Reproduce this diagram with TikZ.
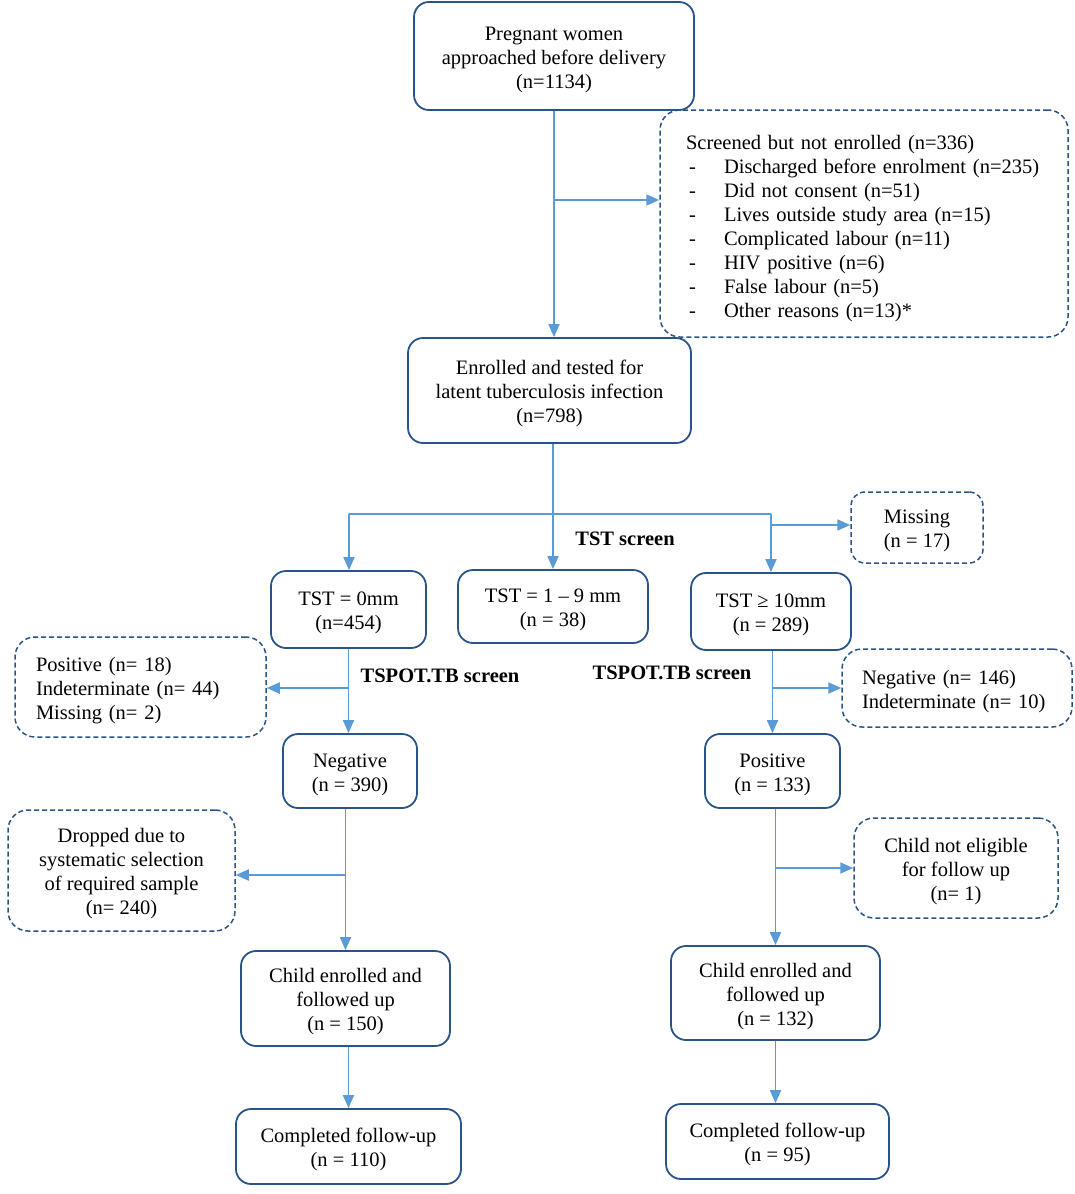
\documentclass[tikz,border=0pt]{standalone}
\usepackage{fontspec}
\setmainfont{Liberation Serif}
\usetikzlibrary{arrows.meta}
\definecolor{boxcol}{RGB}{41,84,138}
\definecolor{arrcol}{RGB}{91,155,213}
\newcommand{\tstrut}{\rule{0pt}{21pt}}
\begin{document}
\begin{tikzpicture}[x=1pt,y=-1pt,
  every node/.style={font=\fontsize{20.5}{24}\selectfont},
  sbox/.style={draw=boxcol,line width=1.8pt,rounded corners=15pt,align=center,inner sep=0pt},
  dbox/.style={draw=boxcol,line width=1.5pt,dash pattern=on 5pt off 3pt,rounded corners=20pt,align=center,inner sep=0pt},
  lbox/.style={dbox,align=left},
  lbl/.style={font=\fontsize{20.5}{24}\selectfont\bfseries,inner sep=0pt},
  ln/.style={draw=arrcol,line width=1.8pt},
  arr/.style={ln,-{Triangle[length=13pt,width=11pt]}}]
\useasboundingbox (0,0) rectangle (1074,1194);
\node[sbox,minimum width=280,minimum height=108] (top) at (554,56) {\tstrut Pregnant women\\approached before delivery\\(n=1134)};
\node[lbox,minimum width=408,minimum height=227,text width=356,inner xsep=26pt] (scr) at (864,223.5) {\rule{0pt}{24pt}Screened but not enrolled (n=336)\\
\hspace*{3pt}\makebox[35pt][l]{-}Discharged before enrolment (n=235)\\
\hspace*{3pt}\makebox[35pt][l]{-}Did not consent (n=51)\\
\hspace*{3pt}\makebox[35pt][l]{-}Lives outside study area (n=15)\\
\hspace*{3pt}\makebox[35pt][l]{-}Complicated labour (n=11)\\
\hspace*{3pt}\makebox[35pt][l]{-}HIV positive (n=6)\\
\hspace*{3pt}\makebox[35pt][l]{-}False labour (n=5)\\
\hspace*{3pt}\makebox[35pt][l]{-}Other reasons (n=13)*};
\node[sbox,minimum width=283,minimum height=105] (enr) at (549.5,390.5) {\tstrut Enrolled and tested for\\latent tuberculosis infection\\(n=798)};
\node[dbox,minimum width=132,minimum height=71,rounded corners=14pt] (miss) at (917,527.5) {\tstrut Missing\\(n = 17)};
\node[sbox,minimum width=155,minimum height=77] (t0) at (348.5,609.5) {\tstrut TST = 0mm\\(n=454)};
\node[sbox,minimum width=190,minimum height=73] (t19) at (553,606.5) {\tstrut TST = 1 – 9 mm\\(n = 38)};
\node[sbox,minimum width=160,minimum height=77] (t10) at (771,611.5) {\tstrut TST ≥ 10mm\\(n = 289)};
\node[lbox,minimum width=251,minimum height=100,text width=209,inner xsep=21pt] (lpos) at (140.5,687) {\tstrut Positive (n= 18)\\Indeterminate (n= 44)\\Missing (n= 2)};
\node[lbox,minimum width=230,minimum height=78,text width=190,inner xsep=20pt] (rneg) at (957,688) {\tstrut Negative (n= 146)\\Indeterminate (n= 10)};
\node[sbox,minimum width=134,minimum height=74] (neg) at (350,771) {\tstrut Negative\\(n = 390)};
\node[sbox,minimum width=135,minimum height=74] (pos) at (772.5,771) {\tstrut Positive\\(n = 133)};
\node[dbox,minimum width=227,minimum height=121] (drop) at (121.5,870.5) {\tstrut Dropped due to\\systematic selection\\of required sample\\(n= 240)};
\node[dbox,minimum width=204,minimum height=100] (nel) at (956,868) {\tstrut Child not eligible\\for follow up\\(n= 1)};
\node[sbox,minimum width=209,minimum height=95] (cl) at (345.5,998.5) {\tstrut Child enrolled and\\followed up\\(n = 150)};
\node[sbox,minimum width=209,minimum height=94] (cr) at (775.5,993) {\tstrut Child enrolled and\\followed up\\(n = 132)};
\node[sbox,minimum width=225,minimum height=75] (fl) at (348.5,1146.5) {\tstrut Completed follow-up\\(n = 110)};
\node[sbox,minimum width=223,minimum height=75] (fr) at (777.5,1141.5) {\tstrut Completed follow-up\\(n = 95)};
\node[lbl] (tst) at (625,539) {TST screen};
\node[lbl] (sp1) at (440,676) {TSPOT.TB screen};
\node[lbl] (sp2) at (672,673) {TSPOT.TB screen};
% connectors
\draw[arr] (top.south) -- (top.south |- enr.north);
\coordinate (c1) at (554,200);
\draw[arr] (c1) -- (c1 -| scr.west);
\draw[arr] (t19.north |- enr.south) -- (t19.north);
\coordinate (hl) at (349,514);
\coordinate (hr) at (771,514);
\draw[ln,line width=1.2pt] (hl) -- (hr);
\draw[arr] (hl) -- (hl |- t0.north);
\draw[arr] (hr) -- (hr |- t10.north);
\coordinate (mb) at (771,525);
\draw[arr] (mb) -- (mb -| miss.west);
\draw[arr] (t0.south) -- (t0.south |- neg.north);
\coordinate (lb) at (348.5,688);
\draw[arr] (lb) -- (lb -| lpos.east);
\draw[arr] (pos.north |- t10.south) -- (pos.north);
\coordinate (rb) at (772.5,688);
\draw[arr] (rb) -- (rb -| rneg.west);
\draw[arr] (cl.north |- neg.south) -- (cl.north);
\coordinate (db) at (345.5,875);
\draw[arr] (db) -- (db -| drop.east);
\draw[arr] (cr.north |- pos.south) -- (cr.north);
\coordinate (eb) at (775.5,868);
\draw[arr] (eb) -- (eb -| nel.west);
\draw[arr] (fl.north |- cl.south) -- (fl.north);
\draw[arr] (cr.south) -- (cr.south |- fr.north);
\end{tikzpicture}
\end{document}
